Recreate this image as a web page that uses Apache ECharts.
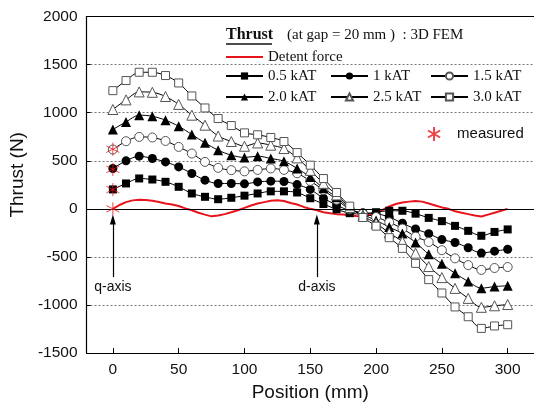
<!DOCTYPE html>
<html><head><meta charset="utf-8">
<script src="https://cdn.jsdelivr.net/npm/echarts@6/dist/echarts.min.js"></script>
<style>html,body{margin:0;padding:0;background:#fff}#c{width:534px;height:407px}</style>
</head><body><div id="c"></div>
<script>
// ---------- data ----------
const position = [0,10,20,30,40,50,60,70,80,90,100,110,120,130,140,150,160,170,180,190,200,210,220,230,240,250,260,270,280,290,300];
const thrust05 = [202,264,316,305,281,229,160,125,100,115,137,160,182,182,170,110,50,-5,-45,-55,-35,-20,-20,-50,-94,-128,-177,-229,-280,-240,-214];
const thrust10 = [420,499,548,524,488,436,368,298,264,264,260,280,288,284,252,202,110,40,-20,-40,-50,-85,-150,-210,-258,-320,-350,-405,-460,-440,-420];
const thrust15 = [617,703,748,742,706,644,575,488,426,402,390,405,420,405,370,290,195,95,-5,-50,-85,-140,-205,-290,-345,-430,-515,-585,-635,-615,-605];
const thrust20 = [825,904,974,963,922,859,773,686,610,558,534,548,524,495,420,330,215,120,5,-60,-120,-190,-256,-350,-473,-572,-671,-755,-825,-808,-800];
const thrust25 = [1033,1133,1216,1212,1168,1086,974,870,757,700,651,685,662,627,530,400,265,145,15,-75,-150,-250,-340,-460,-600,-715,-827,-931,-1024,-1008,-995];
const thrust30 = [1229,1334,1420,1420,1386,1309,1174,1049,939,866,790,770,742,700,585,454,315,170,28,-90,-180,-300,-411,-567,-736,-875,-1020,-1122,-1243,-1218,-1205];
const detentPosition = [0,5,10,15,20,25,30,35,40,45,50,55,60,65,70,75,80,85,90,95,100,105,110,115,120,125,130,135,140,145,150,155,160,165,170,175,180,185,190,195,200,205,210,215,220,225,230,235,240,245,250,255,260,265,270,275,280,285,290,295,300];
const detentForce = [0,40,70,88,95,92,85,72,55,45,30,5,-15,-40,-60,-78,-70,-55,-35,-15,10,35,55,70,85,90,82,60,45,20,0,-15,-35,-45,-55,-60,-68,-75,-80,-65,-45,-10,25,50,65,75,82,75,55,35,15,0,-25,-40,-55,-70,-80,-60,-40,-20,0];
const measuredPosition = [0,0,0,0];
const measuredThrust = [0,200,410,620];
const xTickValues = [0,50,100,150,200,250,300];
const axisMarkPosition = [0,155];
const axisMarkNames = ['q-axis','d-axis'];
const seriesNames = ['0.5 kAT','1 kAT','1.5 kAT','2.0 kAT','2.5 kAT','3.0 kAT'];

// ---------- chart ----------
const pair = (xs, ys) => xs.map((x,i)=>[x, ys[i]]);
const sans = 'Liberation Sans, Arial, sans-serif';
const serif = 'Liberation Serif, Times New Roman, serif';
const chart = echarts.init(document.getElementById('c'), null, {renderer:'canvas'});

const STAR = 'path://M10,0 L10,20 M1.34,5 L18.66,15 M1.34,15 L18.66,5';

function thrustSeries(name, data, symbol, size, filled){
  return {
    name, type:'line', data: pair(position, data),
    symbol, symbolSize: size, smooth: 0.3,
    lineStyle:{color:'#000', width:1},
    itemStyle: filled ? {color:'#000', borderColor:'#000', borderWidth:0}
                      : {color:'#fff', borderColor:'#555', borderWidth:1},
    emphasis:{disabled:true}, z:3
  };
}

function rowLegend(name, left, top, extra){
  return Object.assign({
    data:[name], left, top, padding:0, orient:'horizontal',
    itemWidth:37, itemHeight:9, itemGap:0, selectedMode:false,
    textStyle:{fontFamily:serif, fontSize:15, color:'#111', lineHeight:18}
  }, extra||{});
}

const option = {
  animation:false,
  backgroundColor:'#fff',
  grid:{left:83.5, right:-4, top:16.5, bottom:53.7, containLabel:false},
  xAxis:[{
    type:'value', min:-20, max:320,
    name:'Position (mm)', nameLocation:'middle', nameGap:29,
    nameTextStyle:{fontFamily:sans, fontSize:19, color:'#111'},
    axisLine:{show:true, onZero:false, lineStyle:{color:'#000', width:1.2}},
    axisTick:{show:true, inside:true, length:5, customValues:xTickValues, lineStyle:{color:'#000'}},
    axisLabel:{customValues:xTickValues, fontFamily:sans, fontSize:15.5, color:'#111', margin:9},
    splitLine:{show:false}
  },{
    type:'value', position:'top', min:-20, max:320,
    axisLine:{show:true, onZero:false, lineStyle:{color:'#000', width:1.2}},
    axisTick:{show:false}, axisLabel:{show:false}, splitLine:{show:false}
  }],
  yAxis:{
    type:'value', min:-1500, max:2000, interval:500,
    name:'Thrust (N)', nameLocation:'middle', nameGap:55,
    nameTextStyle:{fontFamily:sans, fontSize:19, color:'#111', padding:[0,0,0,20]},
    axisLine:{show:true, onZero:false, lineStyle:{color:'#000', width:1.2}},
    axisTick:{show:true, inside:true, length:4, lineStyle:{color:'#000'}},
    axisLabel:{fontFamily:sans, fontSize:15.5, color:'#111', margin:9, formatter:(v)=>String(v)},
    splitLine:{show:true, lineStyle:{color:'#777', width:1, type:[2,2]}}
  },
  legend:[
    rowLegend('Detent force', 225, 48, {itemStyle:{opacity:0}}),
    rowLegend(seriesNames[0], 225, 67),
    rowLegend(seriesNames[1], 330, 67),
    rowLegend(seriesNames[2], 430, 67),
    rowLegend(seriesNames[3], 225, 88),
    rowLegend(seriesNames[4], 330, 88),
    rowLegend(seriesNames[5], 430, 88),
    rowLegend('measured', 427, 125, {itemWidth:14, itemHeight:14,
      textStyle:{fontFamily:sans, fontSize:15, color:'#111', lineHeight:18, padding:[0,0,0,11]}})
  ],
  graphic:[
    {type:'text', left:226, top:27, style:{text:'Thrust', font:'bold 16px '+serif, fill:'#111'}},
    {type:'line', shape:{x1:226, y1:44, x2:272, y2:44}, style:{stroke:'#111', lineWidth:1.5}},
    {type:'text', left:287, top:28, style:{text:'(at gap = 20 mm )  : 3D FEM', font:'15px '+serif, fill:'#111'}}
  ],
  series:[
    {
      name:'Detent force', type:'line', data: pair(detentPosition, detentForce),
      symbol:'none', showSymbol:false, lineStyle:{color:'#e8141c', width:2}, itemStyle:{color:'#e8141c'},
      emphasis:{disabled:true}, z:2,
      markLine:{
        silent:true, symbol:['none','none'], label:{show:false},
        lineStyle:{color:'#000', width:1.2, type:'solid'},
        data:[{yAxis:0}]
      }
    },
    thrustSeries(seriesNames[0], thrust05, 'rect', 8, true),
    thrustSeries(seriesNames[1], thrust10, 'circle', 9, true),
    thrustSeries(seriesNames[2], thrust15, 'circle', 9, false),
    thrustSeries(seriesNames[3], thrust20, 'triangle', 10, true),
    thrustSeries(seriesNames[4], thrust25, 'triangle', 10, false),
    thrustSeries(seriesNames[5], thrust30, 'rect', 8, false),
    {
      name:'measured', type:'scatter', data: pair(measuredPosition, measuredThrust),
      symbol: STAR, symbolSize:13,
      itemStyle:{color:'rgba(0,0,0,0)', borderColor:'#e8141c', borderWidth:1},
      emphasis:{disabled:true}, z:5
    },
    {
      name:'annotations', type:'line', data:[], silent:true,
      markLine:{
        silent:true, symbol:['none','triangle'], symbolSize:[6,10],
        label:{show:false},
        lineStyle:{color:'#000', width:1.2, type:'solid'},
        data: axisMarkPosition.map(p=>[{coord:[p,-710]},{coord:[p,-110]}])
      },
      markPoint:{
        silent:true, symbol:'circle', symbolSize:0,
        label:{show:true, position:'inside', formatter:'{b}', fontFamily:sans, fontSize:14, color:'#111'},
        data: axisMarkPosition.map((p,i)=>({name:axisMarkNames[i], coord:[p,-810]}))
      }
    }
  ]
};
chart.setOption(option);
</script>
</body></html>
